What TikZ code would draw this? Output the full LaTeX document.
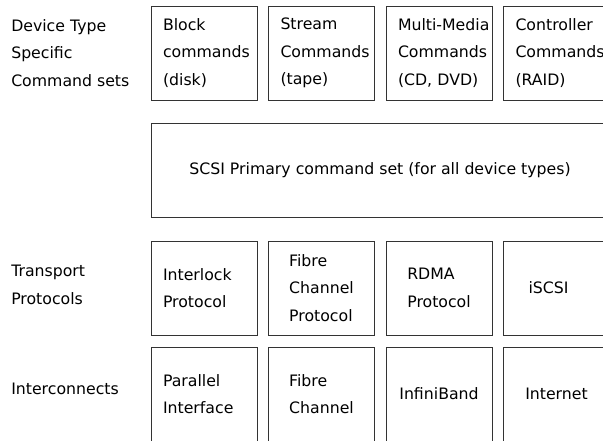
\documentclass[tikz,border=0pt]{standalone}
\usepackage{fontspec}
\setmainfont{DejaVu Sans}
\tikzset{
  cell/.style={draw=black!80, line width=.75pt, minimum width=79.5pt,
    minimum height=70.5pt, inner sep=0pt, align=left,
    font=\fontsize{11.8pt}{20.5pt}\selectfont},
  leftcell/.style={cell, text width=61.5pt},
  widecell/.style={cell, minimum width=343.5pt},
  grouplabel/.style={anchor=west, inner sep=0pt, align=left,
    font=\fontsize{11.8pt}{20.5pt}\selectfont}}

\begin{document}
\begin{tikzpicture}[x=.75pt,y=-.75pt]
\useasboundingbox (0,0) rectangle (603,440);
\clip (0,0) rectangle (603,440);
% group labels
\node[grouplabel] (devlbl) at (11,53)  {Device Type\\Specific\\Command sets};
\node[grouplabel] (trlbl)  at (11,285) {Transport\\Protocols};
\node[grouplabel] (iclbl)  at (11,389) {Interconnects};
% device type specific command sets
\node[leftcell] (blk)  at (204,53)   {Block\\\mbox{commands}\\(disk)};
\node[leftcell] (strm) at (321.5,53) {Stream\\\mbox{Commands}\\(tape)};
\node[leftcell] (mmc)  at (439,53)   {\mbox{Multi-Media}\\\mbox{Commands}\\(CD, DVD)};
\node[leftcell] (ctrl) at (556.5,53) {Controller\\\mbox{Commands}\\(RAID)};
% primary command set
\node[widecell] (spc) at (380,170) {SCSI Primary command set (for all device types)};
% transport protocols
\node[leftcell] (ilp)   at (204,288)   {Interlock\\Protocol};
\node[cell]     (fcp)   at (321.5,288) {Fibre\\Channel\\Protocol};
\node[cell]     (rdma)  at (439,288)   {RDMA\\Protocol};
\node[cell, text width=42pt] (iscsi) at (556.5,288) {iSCSI};
% interconnects
\node[leftcell] (par)  at (204,394)   {Parallel\\Interface};
\node[cell]     (fc)   at (321.5,394) {Fibre\\Channel};
\node[cell]     (ib)   at (439,394)   {InfiniBand};
\node[cell]     (inet) at (556.5,394) {Internet};
\end{tikzpicture}
\end{document}
